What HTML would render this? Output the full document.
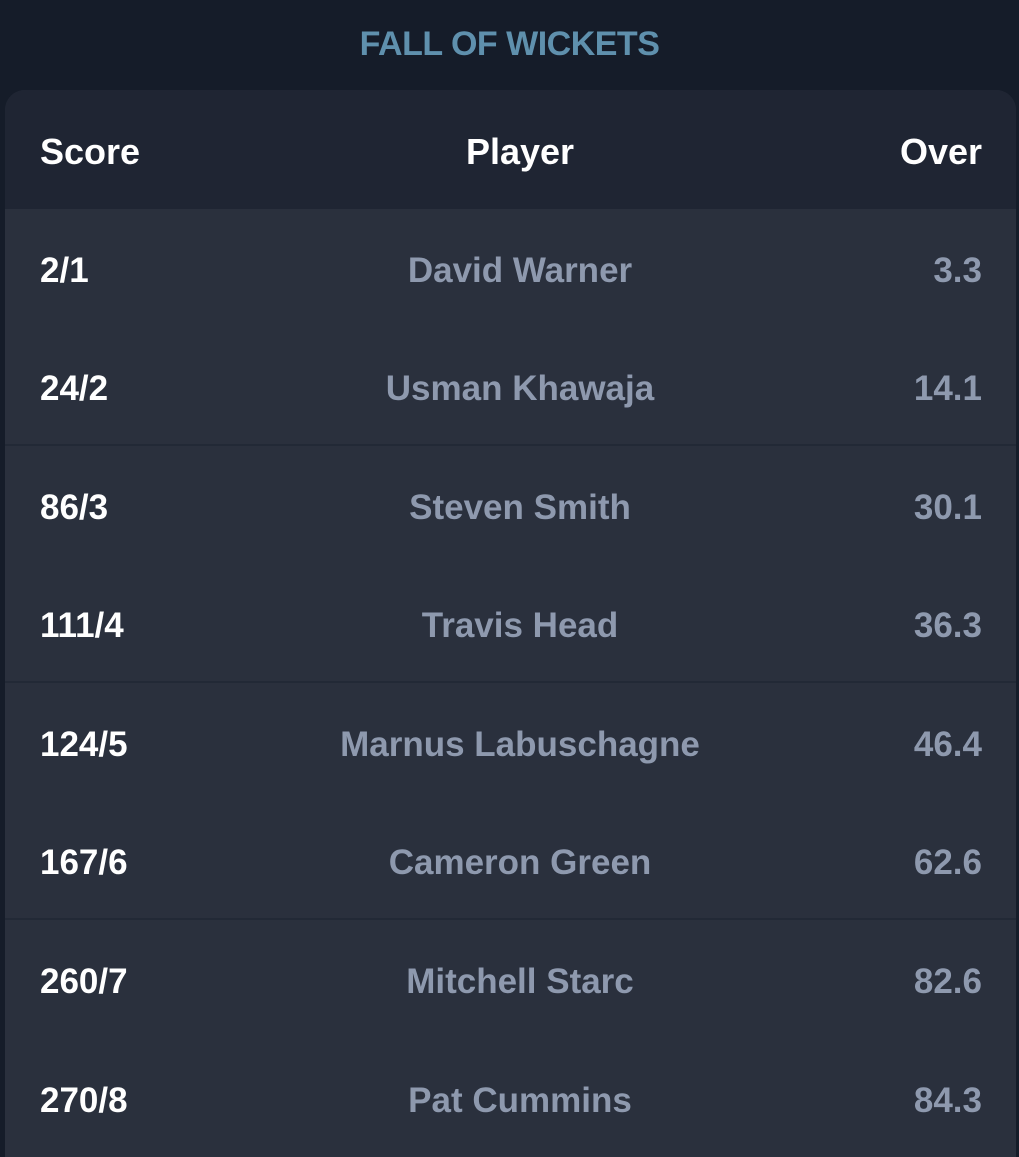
<!DOCTYPE html>
<html><head><meta charset="utf-8"><style>
html,body{margin:0;padding:0;width:1019px;height:1157px;background:#151c29;overflow:hidden;font-family:"Liberation Sans",sans-serif}
#title{position:absolute;top:25px;left:0;width:1019px;text-align:center;font-size:34px;font-weight:bold;color:#5f90ad;letter-spacing:-0.5px}
#card{position:absolute;left:5px;top:90px;width:1011px;height:1067px;border-radius:20px 20px 0 0;overflow:hidden;background:#2a303d}
.hdr{height:119px;background:#1f2533;position:relative}
.row{height:118.5px;position:relative;box-sizing:border-box}
.row.sep{border-bottom:2px solid #222936}
.c{position:absolute;top:3px;height:100%;display:flex;align-items:center;font-size:35px;font-weight:bold}
.s{left:35px;color:#fff}
.p{left:0;width:1030px;justify-content:center;color:#8e99ae}
.o{right:34px;color:#8e99ae}
.hdr .c{color:#fff;font-size:36px;top:2px}
</style></head><body>
<div id="title">FALL OF WICKETS</div>
<div id="card">
<div class="hdr">
<div class="c s">Score</div>
<div class="c p" style="color:#fff">Player</div>
<div class="c o" style="color:#fff">Over</div>
</div>
<div id="rows"></div>
</div>
<script>
const scores=["2/1","24/2","86/3","111/4","124/5","167/6","260/7","270/8"];
const players=["David Warner","Usman Khawaja","Steven Smith","Travis Head","Marnus Labuschagne","Cameron Green","Mitchell Starc","Pat Cummins"];
const overs=["3.3","14.1","30.1","36.3","46.4","62.6","82.6","84.3"];
const rows=document.getElementById('rows');
scores.forEach((s,i)=>{
 const r=document.createElement('div');
 r.className='row'+(i%2==1&&i<7?' sep':'');
 
 
 const a=document.createElement('div');a.className='c s';a.textContent=s;
 
 
 const b=document.createElement('div');b.className='c p';b.textContent=players[i];
 
 
 const c=document.createElement('div');c.className='c o';c.textContent=overs[i];
 
 
 r.append(a,b,c);rows.appendChild(r);
});
</script>
</body></html>
